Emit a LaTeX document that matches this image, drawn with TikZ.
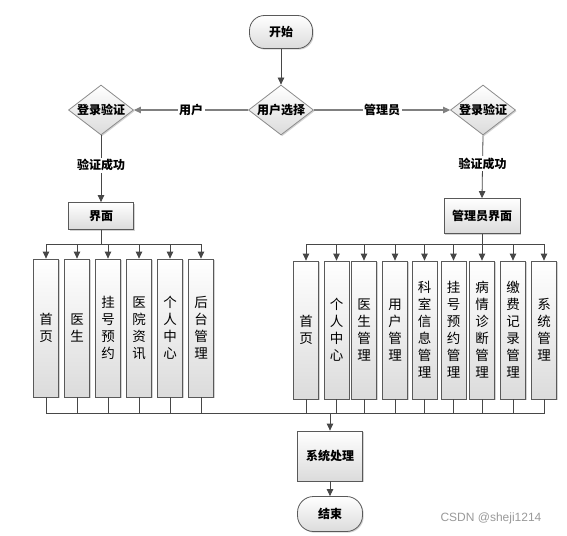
\documentclass[tikz,border=0pt]{standalone}
\usepackage{fontspec}
\newfontfamily\cjk{Noto Sans CJK SC}
\newfontfamily\wm{Liberation Sans}
\usetikzlibrary{shapes.geometric,arrows.meta,shadows}
\tikzset{
  base/.style={draw=black!65, line width=0.8pt, shading=axis, top color=white, bottom color=black!14,
    drop shadow={shadow xshift=1.2pt,shadow yshift=-1.2pt,opacity=0.35,fill=black!50}},
  hfont/.style={font=\cjk\bfseries\fontsize{12}{14}\selectfont},
  term/.style={base, hfont, rectangle, rounded corners=15pt, minimum width=63pt, minimum height=33pt, inner sep=0pt},
  dec/.style={base, hfont, draw=black!45, diamond, aspect=1.3, minimum width=65pt, minimum height=50pt, inner sep=0pt},
  proc/.style={base, hfont, rectangle, inner sep=0pt},
  vbox/.style={base, rectangle, minimum width=25pt, minimum height=138pt, inner sep=0pt, align=center,
    font=\cjk\fontsize{13.5}{17}\selectfont},
  conn/.style={draw=black!72, line width=0.8pt},
  arr/.style={conn, -{Triangle[length=7pt,width=6.5pt]}},
  thick conn/.style={draw=black!50, line width=1.3pt},
  lbl/.style={fill=white, inner sep=1.5pt, hfont}
}
\begin{document}
\begin{tikzpicture}[x=1pt,y=-1pt]
\useasboundingbox (0,0) rectangle (567,535);
% top
\node[term] (start) at (281,32) {开始};
\node[dec] (xz) at (281,110) {用户选择};
\node[dec] (dl) at (101,110) {登录验证};
\node[dec] (dr) at (483,110) {登录验证};
\node[proc, minimum width=65pt, minimum height=27pt] (jm) at (101,216) {界面};
\node[proc, minimum width=76pt, minimum height=35pt] (gjm) at (482,216) {管理员界面};
\node[proc, minimum width=65pt, minimum height=50pt] (sys) at (330,456) {系统处理};
\node[term, minimum width=65pt, minimum height=35pt, rounded corners=16pt] (end) at (330,514) {结束};

\draw[arr] (start) -- (xz);
\draw[thick conn, -{Triangle[length=7pt,width=6.5pt]}] (xz.west) -- node[lbl, pos=0.5] (lu) {用户} (dl.east);
\draw[thick conn, -{Triangle[length=7pt,width=6.5pt]}] (xz.east) -- node[lbl, pos=0.5] (lg) {管理员} (dr.west);
\draw[arr] (dl.south) -- node[lbl, pos=0.45] (ls1) {验证成功} (jm.north);
\draw[arr] (dr.south) -- node[lbl, pos=0.45] (ls2) {验证成功} (gjm.north);

% left boxes
\node[vbox] (l1) at (46,328) {首\\页};
\node[vbox] (l2) at (77,328) {医\\生};
\node[vbox] (l3) at (108,328) {挂\\号\\预\\约};
\node[vbox] (l4) at (139,328) {医\\院\\资\\讯};
\node[vbox] (l5) at (170,328) {个\\人\\中\\心};
\node[vbox] (l6) at (201,328) {后\\台\\管\\理};

% right boxes
\node[vbox] (r1) at (306,330) {首\\页};
\node[vbox] (r2) at (336.5,330) {个\\人\\中\\心};
\node[vbox] (r3) at (364,330) {医\\生\\管\\理};
\node[vbox] (r4) at (395,330) {用\\户\\管\\理};
\node[vbox] (r5) at (424.5,330) {科\\室\\信\\息\\管\\理};
\node[vbox] (r6) at (453.5,330) {挂\\号\\预\\约\\管\\理};
\node[vbox] (r7) at (482,330) {病\\情\\诊\\断\\管\\理};
\node[vbox] (r8) at (513,330) {缴\\费\\记\\录\\管\\理};
\node[vbox] (r9) at (544,330) {系\\统\\管\\理};

\coordinate (lb) at (101,244);
\coordinate (rb) at (482,244);
\coordinate (bot) at (330,413);
\draw[conn] (jm.south) -- (lb);
\draw[conn] (gjm.south) -- (rb);
\foreach \n in {l1,l2,l3,l4,l5,l6} {
  \draw[arr] (lb) -| (\n.north);
  \draw[conn] (\n.south) |- (bot);
}
\foreach \n in {r1,r2,r3,r4,r5,r6,r7,r8,r9} {
  \draw[arr] (rb) -| (\n.north);
  \draw[conn] (\n.south) |- (bot);
}
\draw[arr] (bot) -- (sys.north);
\draw[arr] (sys.south) -- (end.north);

\node[font=\wm\fontsize{12}{14}\selectfont, text=black!40] (wmk) at (491,518) {CSDN @sheji1214};
\end{tikzpicture}
\end{document}
